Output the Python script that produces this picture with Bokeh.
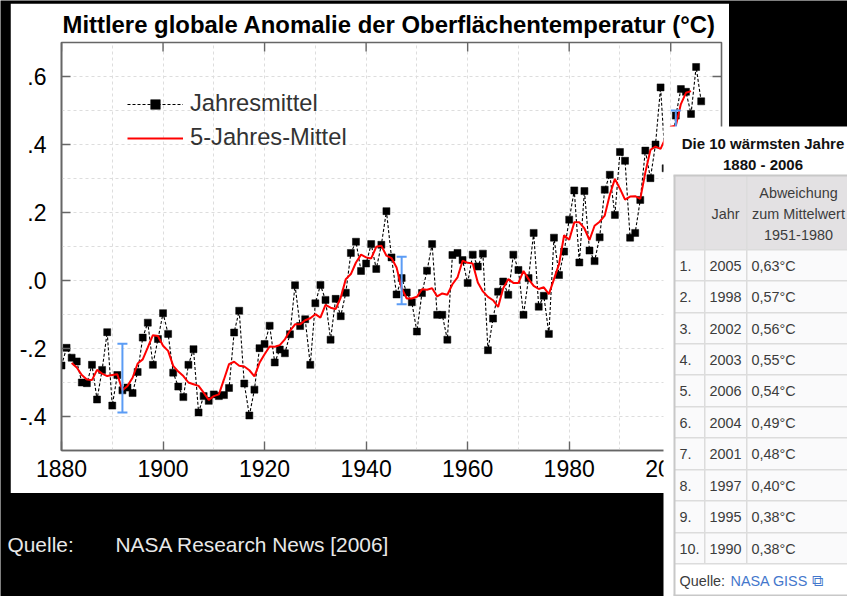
import math
from bokeh.core.properties import value
from bokeh.embed import file_html
from bokeh.resources import INLINE
from bokeh.plotting import figure
from bokeh.models import (ColumnDataSource, FixedTicker, Legend, LegendItem, Range1d, TeeHead, Whisker)

TITLE = "Mittlere globale Anomalie der Oberflächentemperatur (°C)"
first_year = 1880
annual = [-.25, -.198, -.227, -.238, -.30, -.302, -.248, -.35, -.263, -.152,
          -.368, -.278, -.323, -.315, -.331, -.269, -.168, -.124, -.248, -.172,
          -.096, -.157, -.271, -.312, -.343, -.248, -.202, -.388, -.34, -.354,
          -.335, -.34, -.337, -.316, -.153, -.089, -.303, -.397, -.321, -.199,
          -.187, -.133, -.241, -.203, -.214, -.158, -.014, -.134, -.114, -.248,
          -.067, -.013, -.057, -.174, -.054, -.105, -.036, .081, .114, .028,
          .05, .107, .034, .105, .204, .068, -.041, .007, -.035, -.064,
          -.15, -.037, .029, .107, -.101, -.101, -.174, .075, .081, .06,
          -.007, .076, .041, .079, -.205, -.112, -.033, -.003, -.042, .076,
          .031, -.101, .007, .14, -.077, -.045, -.157, .126, .016, .085,
          .179, .265, .053, .263, .088, .057, .127, .267, .311, .193,
          .378, .352, .126, .14, .237, .382, .301, .40, .568, .33,
          .35, .485, .563, .555, .49, .628, .527]
smooth_first_year = 1882
smooth = [-.243, -.256, -.278, -.291, -.293, -.263, -.274, -.281, -.278, -.276,
          -.323, -.31, -.286, -.244, -.232, -.197, -.161, -.163, -.192, -.207,
          -.251, -.268, -.281, -.30, -.305, -.31, -.33, -.351, -.34, -.335,
          -.291, -.246, -.239, -.251, -.253, -.264, -.282, -.242, -.217, -.194,
          -.195, -.19, -.173, -.148, -.129, -.129, -.117, -.111, -.099, -.109,
          -.072, -.08, -.084, -.05, .004, .019, .053, .076, .068, .065,
          .099, .102, .073, .066, .038, -.023, -.053, -.053, -.048, -.026,
          -.027, -.023, -.047, -.038, -.042, -.011, .009, .058, .052, .05,
          -.006, -.032, -.048, -.058, -.078, -.023, .004, -.007, -.007, .028,
          .004, -.016, -.025, -.02, -.04, .004, .048, .133, .12, .171,
          .171, .153, .119, .161, .173, .191, .252, .299, .27, .238,
          .247, .248, .24, .318, .384, .394, .387, .42, .452, .455,
          .519, .552, .557]
err_years = [1892, 1947, 2001]
err_low = [-.388, -.07, .40]
err_high = [-.186, .07, .50]
x_ticks = [1880, 1900, 1920, 1940, 1960, 1980, 2000]
x_minor = [1890, 1910, 1930, 1950, 1970, 1990, 2010]
y_ticks = [-.4, -.2, 0, .2, .4, .6]
y_labels = ["-.4", "-.2", ".0", ".2", ".4", ".6"]
y_minor = [-.3, -.1, .1, .3, .5]
legend_labels = ["Jahresmittel", "5-Jahres-Mittel"]
source_left = "Quelle:"
source_right = "NASA Research News [2006]"
table_title = ["Die 10 wärmsten Jahre", "1880 - 2006"]
table_head = ["Abweichung", "zum Mittelwert", "1951-1980"]
table_years = ["2005", "1998", "2002", "2003", "2006", "2004", "2001", "1997", "1995", "1990"]
table_vals = ["0,63°C", "0,57°C", "0,56°C", "0,55°C", "0,54°C", "0,49°C", "0,48°C", "0,40°C", "0,38°C", "0,38°C"]

W, H = 847, 596
FONT = "Liberation Sans"
grid_color, axis_color = "#dddddd", "#666666"


def placed(left, top, w, h, fill):
    """A figure whose frame fills it; its data units are page pixels."""
    f = figure(width=w, height=h, output_backend="svg", toolbar_location=None,
               x_range=Range1d(left, left + w), y_range=Range1d(top + h, top),
               min_border=0, min_border_left=0, min_border_right=0, min_border_top=0, min_border_bottom=0,
               background_fill_color=fill, border_fill_color=fill, outline_line_color=None,
               x_axis_location=None, y_axis_location=None,
               styles={"position": "absolute", "left": f"{left}px", "top": f"{top}px"})
    f.grid.visible = False
    return f


def text(f, x, y, s, size="14.4px", color="#3c3c3c", align="left", style="normal", font=FONT):
    f.text([x], [y], text=[s], text_font=value(font), text_font_size=value(size), text_color=color,
           text_align=align, text_baseline="middle", text_font_style=style)


def box(f, l, r, t, b, color):
    f.quad(left=[l], right=[r], top=[t], bottom=[b], fill_color=color, line_color=None)


# black page with the source line
back = placed(0, 0, W, H, "black")
text(back, 7, 544, source_left, size="20.9px", color="#e8e8e8")
text(back, 115, 544, source_right, size="20.9px", color="#e8e8e8")

# the white chart sheet, x 10-729, y 3-493
p = figure(width=719, height=490, output_backend="svg", toolbar_location=None,
           x_range=Range1d(1880, 2010), y_range=Range1d(-.5, .7),
           min_border_left=51, min_border_right=8, min_border_top=39, min_border_bottom=43,
           background_fill_color="white", border_fill_color="white",
           outline_line_color=axis_color, outline_line_width=1.6,
           styles={"position": "absolute", "left": "10px", "top": "3px"})

p.title.text = TITLE
p.title.text_font = FONT
p.title.text_font_size = "23.9px"
p.title.text_color = "black"
p.title.align = "left"
p.title.offset = 1
p.title.standoff = 10

for ax, ticks in [(p.xaxis[0], x_ticks), (p.yaxis[0], y_ticks)]:
    ax.ticker = FixedTicker(ticks=ticks)
    ax.major_label_text_font = FONT
    ax.major_label_text_font_size = "23px"
    ax.major_label_text_color = "black"
    ax.major_tick_in = 9
    ax.major_tick_out = 0
    ax.minor_tick_in = 0
    ax.minor_tick_out = 0
    ax.axis_line_color = axis_color
    ax.axis_line_width = 1.6
    ax.major_tick_line_color = axis_color
    ax.major_tick_line_width = 1.4
p.yaxis[0].major_label_overrides = dict(zip(y_ticks, y_labels))
p.xaxis[0].major_label_standoff = 9
p.yaxis[0].major_label_standoff = 15

p.xgrid[0].ticker = FixedTicker(ticks=x_ticks + x_minor)
p.ygrid[0].ticker = FixedTicker(ticks=y_ticks + y_minor)
for g in (p.xgrid[0], p.ygrid[0]):
    g.grid_line_color = grid_color
    g.grid_line_dash = "3 3"
    g.grid_line_width = 1

# inward ticks on the top and right frame edges: half of each mark is clipped by the frame
p.scatter(x_ticks, [.7] * len(x_ticks), marker="dash", size=18, angle=math.pi / 2,
          line_color=axis_color, line_width=1.4)
p.scatter([2010] * len(y_ticks), y_ticks, marker="dash", size=18, line_color=axis_color, line_width=1.4)

years = [first_year + i for i in range(len(annual))]
smooth_years = [smooth_first_year + i for i in range(len(smooth))]
line_a = p.line(years, annual, line_color="black", line_width=1.1, line_dash="3 2")
mark_a = p.scatter(years, annual, marker="square", size=7, fill_color="black", line_color="black", line_width=0.5)
line_s = p.line(smooth_years, smooth, line_color="#ff0000", line_width=2)

err = ColumnDataSource(dict(base=err_years, lower=err_low, upper=err_high))
head = dict(size=10, line_color="#5b9cf5", line_width=2)
p.add_layout(Whisker(source=err, base="base", lower="lower", upper="upper", dimension="height",
                     line_color="#5b9cf5", line_width=2, level="glyph",
                     upper_head=TeeHead(**head), lower_head=TeeHead(**head)))

legend = Legend(items=[LegendItem(label=legend_labels[0], renderers=[line_a, mark_a]),
                       LegendItem(label=legend_labels[1], renderers=[line_s])],
                location=(66, 299), orientation="vertical", background_fill_alpha=0, border_line_color=None,
                label_text_font=FONT, label_text_font_size="23.7px", label_text_color="#333333",
                glyph_width=56, glyph_height=24, label_standoff=7, padding=0, margin=0, spacing=7,
                label_height=27)
p.add_layout(legend)

# the table pasted over the right-hand side
t = placed(663, 126, W - 663, H - 126, "white")
T_L, T_R = 674, 847
C1, C2 = 704, 746
row_edges = [249, 280, 312, 343, 374, 406, 437, 469, 500, 532, 563]
T_TOP, T_BOTTOM = 175, 595
box(t, T_L, T_R, T_TOP, 249, "#e3e1e3")
box(t, T_L, T_R, 249, 563, "#fafafb")
line_c = "#dcdcdc"
for y in row_edges:
    box(t, T_L, T_R, y - .5, y + 1, line_c)
box(t, C1 - .5, C1 + 1, T_TOP, 563, line_c)
box(t, C2 - .5, C2 + 1, T_TOP, 563, line_c)
box(t, T_L - 1, T_L + 1, T_TOP, T_BOTTOM, "#c8c8c8")
box(t, T_L - 1, T_R, T_TOP - 1, T_TOP + 1, "#c8c8c8")
box(t, T_L - 1, T_R, T_BOTTOM - 1, T_BOTTOM + 1, "#c8c8c8")

text(t, 762.5, 143, table_title[0], size="15px", color="#111111", align="center", style="bold")
text(t, 762.5, 164, table_title[1], size="15px", color="#111111", align="center", style="bold")
text(t, 725, 213, "Jahr", align="center")
for y, s in zip([192, 213, 234], table_head):
    text(t, 798, y, s, align="center")
for i, (yr, val) in enumerate(zip(table_years, table_vals)):
    yc = (row_edges[i] + row_edges[i + 1]) / 2 + .5
    text(t, 679, yc, f"{i + 1}.")
    text(t, 725, yc, yr, align="center")
    text(t, 751, yc, val)
text(t, 679, 580, "Quelle:")
text(t, 730, 580, "NASA GISS", color="#4477cc")
text(t, 811, 580, "⧉", color="#4477cc", size="16px", font="DejaVu Sans")

open("out.html", "w").write(file_html([back, p, t], INLINE))
